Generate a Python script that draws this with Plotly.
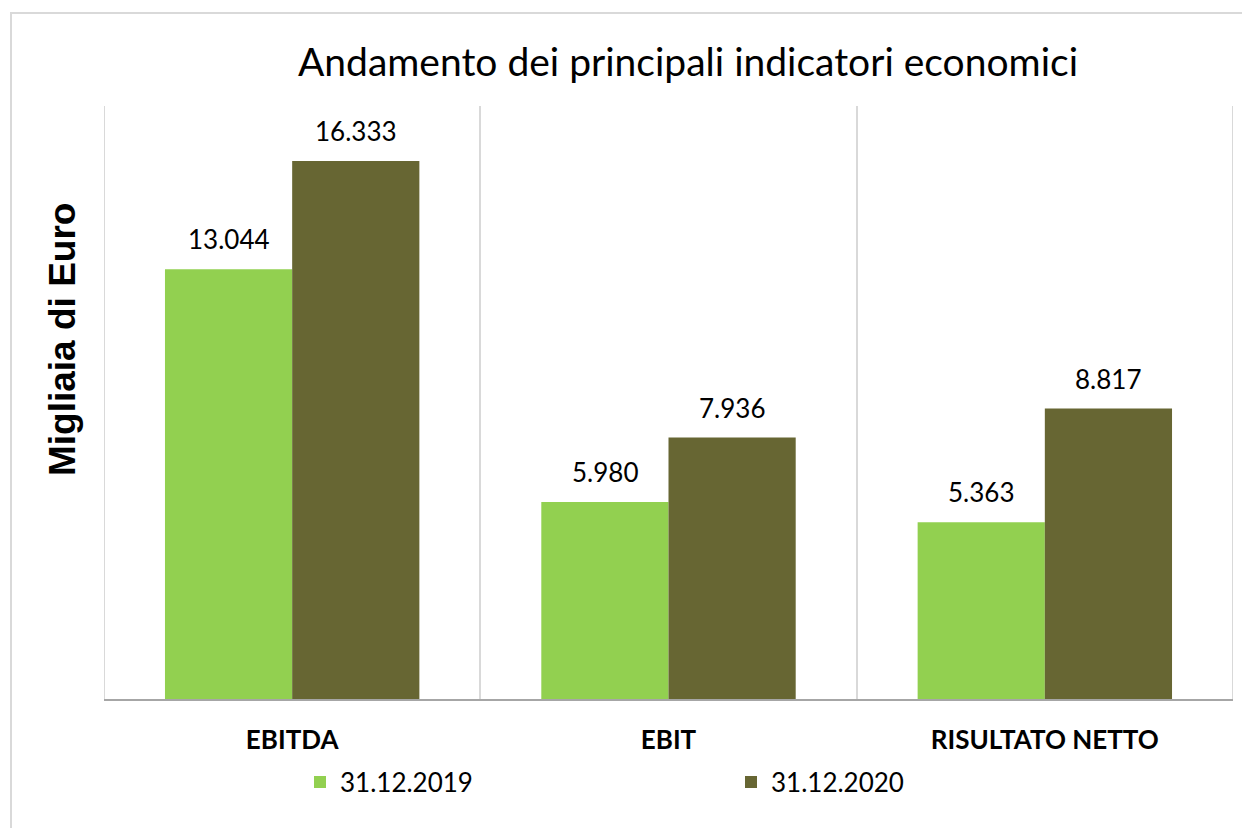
import plotly.graph_objects as go

categories = ["EBITDA", "EBIT", "RISULTATO NETTO"]
series_names = ["31.12.2019", "31.12.2020"]
values_2019 = [13044, 5980, 5363]
values_2020 = [16333, 7936, 8817]
colors = ["#92d050", "#676633"]

W, H = 1242, 828
ML, MR, MT, MB = 104, 9, 106, 129
PW = W - ML - MR
PH = H - MT - MB
FONT = "Lato"

fig = go.Figure()
for name, vals, col in zip(series_names, [values_2019, values_2020], colors):
    fig.add_trace(go.Bar(x=categories, y=vals, name=name, marker=dict(color=col, line=dict(width=0))))

bargap = 0.324
bw = (1 - bargap) / 2
annotations = []
for s, vals in enumerate([values_2019, values_2020]):
    for i, v in enumerate(vals):
        annotations.append(dict(
            x=i + (s - 0.5) * bw, y=v, xref="x", yref="y",
            text=f"{v:,}".replace(",", "."), showarrow=False,
            yanchor="bottom", yshift=12,
            font=dict(family=FONT, size=26, color="#000000")))

annotations.append(dict(
    x=(62 - ML) / PW, y=(H - MB - 340) / PH, xref="paper", yref="paper",
    xanchor="center", yanchor="middle",
    text="Migliaia di Euro", textangle=-90, showarrow=False,
    font=dict(family="Liberation Sans", size=37, color="#000000", weight="bold")))

shapes = [dict(type="rect", xref="paper", yref="paper",
               x0=(11 - ML) / PW, x1=(W + 5 - ML) / PW,
               y0=(H - MB - (H + 5)) / PH, y1=(H - MB - 13) / PH,
               line=dict(color="#d9d9d9", width=2), fillcolor="rgba(0,0,0,0)",
               layer="below")]
for xb in [-0.5, len(categories) - 0.5]:
    shapes.append(dict(type="line", xref="x", yref="paper", x0=xb, x1=xb, y0=0, y1=1,
                       line=dict(color="#d9d9d9", width=2), layer="below"))

fig.update_layout(
    width=W, height=H,
    margin=dict(l=ML, r=MR, t=MT, b=MB),
    paper_bgcolor="white", plot_bgcolor="white",
    barmode="group", bargap=bargap, bargroupgap=0,
    title=dict(text="Andamento dei principali indicatori economici",
               x=(688 - ML) / PW, xref="paper", xanchor="center",
               y=1 - 62 / H, yanchor="middle",
               font=dict(family=FONT, size=39, color="#000000")),
    xaxis=dict(tickson="boundaries", showgrid=True, gridcolor="#d9d9d9", gridwidth=2,
               range=[-0.5, len(categories) - 0.5],
               showline=True, linecolor="#a6a6a6", linewidth=2, ticks="",
               tickfont=dict(family=FONT, size=26, color="#000000", weight="bold"),
               ticklabelstandoff=17),
    yaxis=dict(range=[0, 18000], showgrid=False, zeroline=False, showticklabels=False,
               showline=False),
    legend=dict(orientation="h", x=(300 - ML) / PW, xanchor="left",
                y=-(782 - (H - MB)) / PH, yanchor="middle",
                entrywidth=386, entrywidthmode="pixels",
                font=dict(family=FONT, size=26, color="#000000")),
    annotations=annotations,
    shapes=shapes,
)

fig.write_html("out.html", config={"displayModeBar": False},
               post_script="document.body.style.margin='0';")
